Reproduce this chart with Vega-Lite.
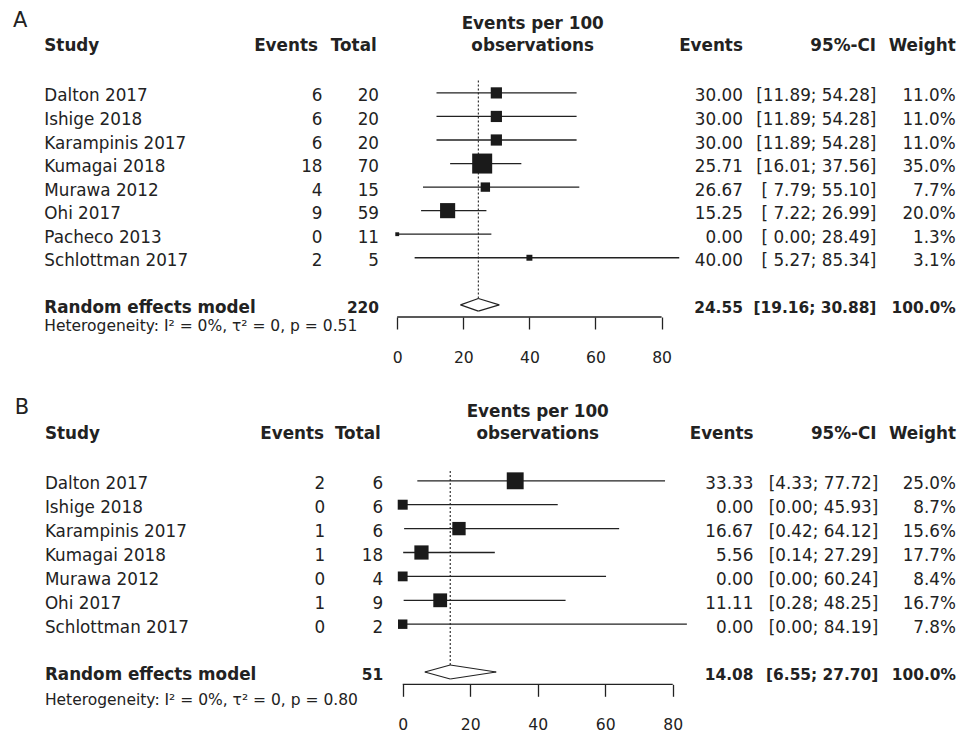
{
  "$schema": "https://vega.github.io/schema/vega-lite/v6.json",
  "background": "white",
  "padding": 0,
  "spacing": 63,
  "bounds": "flush",
  "config": {
    "view": {"stroke": null},
    "text": {"font": "DejaVu Sans", "fontSize": 16.8, "color": "#222222", "baseline": "middle", "dy": 3.5},
    "axis": {"labelFont": "DejaVu Sans", "labelFontSize": 15.6, "labelColor": "#222222", "tickColor": "#222222", "tickWidth": 1.3, "tickSize": 12, "labelPadding": 21.5, "domain": false, "grid": false}
  },
  "datasets": {
    "A": [
      {"row": 0, "study": "Dalton 2017", "events": 6, "total": 20, "est": 30.00, "lo": 11.89, "hi": 54.28, "ci": "[11.89; 54.28]", "weight": 0.110},
      {"row": 1, "study": "Ishige 2018", "events": 6, "total": 20, "est": 30.00, "lo": 11.89, "hi": 54.28, "ci": "[11.89; 54.28]", "weight": 0.110},
      {"row": 2, "study": "Karampinis 2017", "events": 6, "total": 20, "est": 30.00, "lo": 11.89, "hi": 54.28, "ci": "[11.89; 54.28]", "weight": 0.110},
      {"row": 3, "study": "Kumagai 2018", "events": 18, "total": 70, "est": 25.71, "lo": 16.01, "hi": 37.56, "ci": "[16.01; 37.56]", "weight": 0.350},
      {"row": 4, "study": "Murawa 2012", "events": 4, "total": 15, "est": 26.67, "lo": 7.79, "hi": 55.10, "ci": "[ 7.79; 55.10]", "weight": 0.077},
      {"row": 5, "study": "Ohi 2017", "events": 9, "total": 59, "est": 15.25, "lo": 7.22, "hi": 26.99, "ci": "[ 7.22; 26.99]", "weight": 0.200},
      {"row": 6, "study": "Pacheco 2013", "events": 0, "total": 11, "est": 0.00, "lo": 0.00, "hi": 28.49, "ci": "[ 0.00; 28.49]", "weight": 0.013},
      {"row": 7, "study": "Schlottman 2017", "events": 2, "total": 5, "est": 40.00, "lo": 5.27, "hi": 85.34, "ci": "[ 5.27; 85.34]", "weight": 0.031}
    ],
    "Are": [
      {"row": 9, "study": "Random effects model", "total": 220, "est": 24.55, "lo": 19.16, "hi": 30.88, "ci": "[19.16; 30.88]", "weight": 1.0, "het": "Heterogeneity: I² = 0%, τ² = 0, p = 0.51"}
    ],
    "B": [
      {"row": 0, "study": "Dalton 2017", "events": 2, "total": 6, "est": 33.33, "lo": 4.33, "hi": 77.72, "ci": "[4.33; 77.72]", "weight": 0.250},
      {"row": 1, "study": "Ishige 2018", "events": 0, "total": 6, "est": 0.00, "lo": 0.00, "hi": 45.93, "ci": "[0.00; 45.93]", "weight": 0.087},
      {"row": 2, "study": "Karampinis 2017", "events": 1, "total": 6, "est": 16.67, "lo": 0.42, "hi": 64.12, "ci": "[0.42; 64.12]", "weight": 0.156},
      {"row": 3, "study": "Kumagai 2018", "events": 1, "total": 18, "est": 5.56, "lo": 0.14, "hi": 27.29, "ci": "[0.14; 27.29]", "weight": 0.177},
      {"row": 4, "study": "Murawa 2012", "events": 0, "total": 4, "est": 0.00, "lo": 0.00, "hi": 60.24, "ci": "[0.00; 60.24]", "weight": 0.084},
      {"row": 5, "study": "Ohi 2017", "events": 1, "total": 9, "est": 11.11, "lo": 0.28, "hi": 48.25, "ci": "[0.28; 48.25]", "weight": 0.167},
      {"row": 6, "study": "Schlottman 2017", "events": 0, "total": 2, "est": 0.00, "lo": 0.00, "hi": 84.19, "ci": "[0.00; 84.19]", "weight": 0.078}
    ],
    "Bre": [
      {"row": 8, "study": "Random effects model", "total": 51, "est": 14.08, "lo": 6.55, "hi": 27.70, "ci": "[6.55; 27.70]", "weight": 1.0, "het": "Heterogeneity: I² = 0%, τ² = 0, p = 0.80"}
    ],
    "one": [{}]
  },
  "vconcat": [
    {
      "width": 960,
      "height": 317,
      "layer": [
        {
          "data": {"name": "A"},
          "mark": {"type": "rule", "color": "#222222", "strokeWidth": 1.3},
          "encoding": {
            "x": {"field": "lo", "type": "quantitative", "scale": {"domain": [-120.2, 170.3], "nice": false, "zero": false}, "axis": {"values": [0, 20, 40, 60, 80], "title": null, "format": "d", "labelFlush": false, "labelOverlap": false}},
            "x2": {"field": "hi"},
            "y": {"field": "row", "type": "quantitative", "scale": {"domain": [-3.945, 9.516], "reverse": true, "nice": false, "zero": false}, "axis": null}
          }
        },
        {
          "data": {"name": "Are"},
          "mark": {"type": "rule", "color": "#222222", "strokeWidth": 1.1, "strokeDash": [2, 2], "yOffset": -6.3},
          "encoding": {
            "x": {"field": "est", "type": "quantitative"},
            "y": {"field": "row", "type": "quantitative"},
            "y2": {"datum": -0.56}
          }
        },
        {
          "data": {"name": "A"},
          "mark": {"type": "point", "shape": "square", "filled": true, "color": "#1a1a1a", "opacity": 1, "strokeWidth": 0},
          "encoding": {
            "x": {"field": "est", "type": "quantitative"},
            "y": {"field": "row", "type": "quantitative"},
            "size": {"field": "weight", "type": "quantitative", "scale": {"domain": [0, 0.35], "range": [0, 400], "zero": true}, "legend": null}
          }
        },
        {"data": {"name": "Are"}, "mark": {"type": "rule", "color": "#222222", "strokeWidth": 1.2, "y2Offset": -6.3},
         "encoding": {"x": {"field": "lo", "type": "quantitative"}, "x2": {"field": "est"}, "y": {"field": "row", "type": "quantitative"}, "y2": {"field": "row"}}},
        {"data": {"name": "Are"}, "mark": {"type": "rule", "color": "#222222", "strokeWidth": 1.2, "y2Offset": 6.3},
         "encoding": {"x": {"field": "lo", "type": "quantitative"}, "x2": {"field": "est"}, "y": {"field": "row", "type": "quantitative"}, "y2": {"field": "row"}}},
        {"data": {"name": "Are"}, "mark": {"type": "rule", "color": "#222222", "strokeWidth": 1.2, "yOffset": -6.3},
         "encoding": {"x": {"field": "est", "type": "quantitative"}, "x2": {"field": "hi"}, "y": {"field": "row", "type": "quantitative"}, "y2": {"field": "row"}}},
        {"data": {"name": "Are"}, "mark": {"type": "rule", "color": "#222222", "strokeWidth": 1.2, "yOffset": 6.3},
         "encoding": {"x": {"field": "est", "type": "quantitative"}, "x2": {"field": "hi"}, "y": {"field": "row", "type": "quantitative"}, "y2": {"field": "row"}}},
        {
          "data": {"name": "one"},
          "mark": {"type": "rule", "color": "#222222", "strokeWidth": 1.3},
          "encoding": {
            "x": {"datum": 0, "type": "quantitative"},
            "x2": {"datum": 80},
            "y": {"datum": 9.516, "type": "quantitative"}
          }
        },
        {"data": {"name": "A"}, "mark": {"type": "text", "align": "left"},
         "encoding": {"x": {"datum": -106.8, "type": "quantitative"}, "y": {"field": "row", "type": "quantitative"}, "text": {"field": "study"}}},
        {"data": {"name": "A"}, "mark": {"type": "text", "align": "right"},
         "encoding": {"x": {"datum": -22.6, "type": "quantitative"}, "y": {"field": "row", "type": "quantitative"}, "text": {"field": "events", "type": "quantitative", "format": "d"}}},
        {"data": {"name": "A"}, "mark": {"type": "text", "align": "right"},
         "encoding": {"x": {"datum": -5.5, "type": "quantitative"}, "y": {"field": "row", "type": "quantitative"}, "text": {"field": "total", "type": "quantitative", "format": "d"}}},
        {"data": {"name": "A"}, "mark": {"type": "text", "align": "right"},
         "encoding": {"x": {"datum": 104.6, "type": "quantitative"}, "y": {"field": "row", "type": "quantitative"}, "text": {"field": "est", "type": "quantitative", "format": ".2f"}}},
        {"data": {"name": "A"}, "mark": {"type": "text", "align": "right"},
         "encoding": {"x": {"datum": 145.0, "type": "quantitative"}, "y": {"field": "row", "type": "quantitative"}, "text": {"field": "ci"}}},
        {"data": {"name": "A"}, "mark": {"type": "text", "align": "right"},
         "encoding": {"x": {"datum": 169.0, "type": "quantitative"}, "y": {"field": "row", "type": "quantitative"}, "text": {"field": "weight", "type": "quantitative", "format": ".1%"}}},
        {"data": {"name": "Are"}, "mark": {"type": "text", "align": "left", "fontWeight": "bold"},
         "encoding": {"x": {"datum": -106.8, "type": "quantitative"}, "y": {"field": "row", "type": "quantitative"}, "text": {"field": "study"}}},
        {"data": {"name": "Are"}, "mark": {"type": "text", "align": "right", "fontWeight": "bold", "fontSize": 15.4},
         "encoding": {"x": {"datum": -5.5, "type": "quantitative"}, "y": {"field": "row", "type": "quantitative"}, "text": {"field": "total", "type": "quantitative", "format": "d"}}},
        {"data": {"name": "Are"}, "mark": {"type": "text", "align": "right", "fontWeight": "bold", "fontSize": 15.4},
         "encoding": {"x": {"datum": 104.6, "type": "quantitative"}, "y": {"field": "row", "type": "quantitative"}, "text": {"field": "est", "type": "quantitative", "format": ".2f"}}},
        {"data": {"name": "Are"}, "mark": {"type": "text", "align": "right", "fontWeight": "bold", "fontSize": 15.4},
         "encoding": {"x": {"datum": 145.0, "type": "quantitative"}, "y": {"field": "row", "type": "quantitative"}, "text": {"field": "ci"}}},
        {"data": {"name": "Are"}, "mark": {"type": "text", "align": "right", "fontWeight": "bold", "fontSize": 15.4},
         "encoding": {"x": {"datum": 169.0, "type": "quantitative"}, "y": {"field": "row", "type": "quantitative"}, "text": {"field": "weight", "type": "quantitative", "format": ".1%"}}},
        {"data": {"name": "Are"}, "mark": {"type": "text", "align": "left", "fontSize": 15.5},
         "encoding": {"x": {"datum": -106.8, "type": "quantitative"}, "y": {"datum": 9.77, "type": "quantitative"}, "text": {"field": "het"}}},
        {"data": {"name": "one"}, "mark": {"type": "text", "align": "left", "fontSize": 21, "text": "A"},
         "encoding": {"x": {"datum": -116.3, "type": "quantitative"}, "y": {"datum": -3.2, "type": "quantitative"}}},
        {"data": {"name": "one"}, "mark": {"type": "text", "align": "left", "fontWeight": "bold", "text": "Study"},
         "encoding": {"x": {"datum": -106.8, "type": "quantitative"}, "y": {"datum": -2.12, "type": "quantitative"}}},
        {"data": {"name": "one"}, "mark": {"type": "text", "align": "right", "fontWeight": "bold", "text": "Events"},
         "encoding": {"x": {"datum": -24.0, "type": "quantitative"}, "y": {"datum": -2.12, "type": "quantitative"}}},
        {"data": {"name": "one"}, "mark": {"type": "text", "align": "right", "fontWeight": "bold", "text": "Total"},
         "encoding": {"x": {"datum": -6.2, "type": "quantitative"}, "y": {"datum": -2.12, "type": "quantitative"}}},
        {"data": {"name": "one"}, "mark": {"type": "text", "align": "center", "fontWeight": "bold", "text": "Events per 100"},
         "encoding": {"x": {"datum": 41, "type": "quantitative"}, "y": {"datum": -3.09, "type": "quantitative"}}},
        {"data": {"name": "one"}, "mark": {"type": "text", "align": "center", "fontWeight": "bold", "text": "observations"},
         "encoding": {"x": {"datum": 41, "type": "quantitative"}, "y": {"datum": -2.12, "type": "quantitative"}}},
        {"data": {"name": "one"}, "mark": {"type": "text", "align": "right", "fontWeight": "bold", "text": "Events"},
         "encoding": {"x": {"datum": 104.6, "type": "quantitative"}, "y": {"datum": -2.12, "type": "quantitative"}}},
        {"data": {"name": "one"}, "mark": {"type": "text", "align": "right", "fontWeight": "bold", "text": "95%-CI"},
         "encoding": {"x": {"datum": 144.9, "type": "quantitative"}, "y": {"datum": -2.12, "type": "quantitative"}}},
        {"data": {"name": "one"}, "mark": {"type": "text", "align": "right", "fontWeight": "bold", "text": "Weight"},
         "encoding": {"x": {"datum": 169.0, "type": "quantitative"}, "y": {"datum": -2.12, "type": "quantitative"}}}
      ]
    },
    {
      "width": 960,
      "height": 304.3,
      "layer": [
        {
          "data": {"name": "B"},
          "mark": {"type": "rule", "color": "#222222", "strokeWidth": 1.3},
          "encoding": {
            "x": {"field": "lo", "type": "quantitative", "scale": {"domain": [-119.3, 165.1], "nice": false, "zero": false}, "axis": {"values": [0, 20, 40, 60, 80], "title": null, "format": "d", "labelFlush": false, "labelOverlap": false}},
            "x2": {"field": "hi"},
            "y": {"field": "row", "type": "quantitative", "scale": {"domain": [-4.218, 8.515], "reverse": true, "nice": false, "zero": false}, "axis": null}
          }
        },
        {
          "data": {"name": "Bre"},
          "mark": {"type": "rule", "color": "#222222", "strokeWidth": 1.1, "strokeDash": [2, 2], "yOffset": -7},
          "encoding": {
            "x": {"field": "est", "type": "quantitative"},
            "y": {"field": "row", "type": "quantitative"},
            "y2": {"datum": -0.48}
          }
        },
        {
          "data": {"name": "B"},
          "mark": {"type": "point", "shape": "square", "filled": true, "color": "#1a1a1a", "opacity": 1, "strokeWidth": 0},
          "encoding": {
            "x": {"field": "est", "type": "quantitative"},
            "y": {"field": "row", "type": "quantitative"},
            "size": {"field": "weight", "type": "quantitative", "scale": {"domain": [0, 0.25], "range": [0, 400], "zero": true}, "legend": null}
          }
        },
        {"data": {"name": "Bre"}, "mark": {"type": "rule", "color": "#222222", "strokeWidth": 1.2, "y2Offset": -7},
         "encoding": {"x": {"field": "lo", "type": "quantitative"}, "x2": {"field": "est"}, "y": {"field": "row", "type": "quantitative"}, "y2": {"field": "row"}}},
        {"data": {"name": "Bre"}, "mark": {"type": "rule", "color": "#222222", "strokeWidth": 1.2, "y2Offset": 7},
         "encoding": {"x": {"field": "lo", "type": "quantitative"}, "x2": {"field": "est"}, "y": {"field": "row", "type": "quantitative"}, "y2": {"field": "row"}}},
        {"data": {"name": "Bre"}, "mark": {"type": "rule", "color": "#222222", "strokeWidth": 1.2, "yOffset": -7},
         "encoding": {"x": {"field": "est", "type": "quantitative"}, "x2": {"field": "hi"}, "y": {"field": "row", "type": "quantitative"}, "y2": {"field": "row"}}},
        {"data": {"name": "Bre"}, "mark": {"type": "rule", "color": "#222222", "strokeWidth": 1.2, "yOffset": 7},
         "encoding": {"x": {"field": "est", "type": "quantitative"}, "x2": {"field": "hi"}, "y": {"field": "row", "type": "quantitative"}, "y2": {"field": "row"}}},
        {
          "data": {"name": "one"},
          "mark": {"type": "rule", "color": "#222222", "strokeWidth": 1.3},
          "encoding": {
            "x": {"datum": 0, "type": "quantitative"},
            "x2": {"datum": 80},
            "y": {"datum": 8.515, "type": "quantitative"}
          }
        },
        {"data": {"name": "B"}, "mark": {"type": "text", "align": "left"},
         "encoding": {"x": {"datum": -106.0, "type": "quantitative"}, "y": {"field": "row", "type": "quantitative"}, "text": {"field": "study"}}},
        {"data": {"name": "B"}, "mark": {"type": "text", "align": "right"},
         "encoding": {"x": {"datum": -23.0, "type": "quantitative"}, "y": {"field": "row", "type": "quantitative"}, "text": {"field": "events", "type": "quantitative", "format": "d"}}},
        {"data": {"name": "B"}, "mark": {"type": "text", "align": "right"},
         "encoding": {"x": {"datum": -5.8, "type": "quantitative"}, "y": {"field": "row", "type": "quantitative"}, "text": {"field": "total", "type": "quantitative", "format": "d"}}},
        {"data": {"name": "B"}, "mark": {"type": "text", "align": "right"},
         "encoding": {"x": {"datum": 103.9, "type": "quantitative"}, "y": {"field": "row", "type": "quantitative"}, "text": {"field": "est", "type": "quantitative", "format": ".2f"}}},
        {"data": {"name": "B"}, "mark": {"type": "text", "align": "right"},
         "encoding": {"x": {"datum": 140.9, "type": "quantitative"}, "y": {"field": "row", "type": "quantitative"}, "text": {"field": "ci"}}},
        {"data": {"name": "B"}, "mark": {"type": "text", "align": "right"},
         "encoding": {"x": {"datum": 163.9, "type": "quantitative"}, "y": {"field": "row", "type": "quantitative"}, "text": {"field": "weight", "type": "quantitative", "format": ".1%"}}},
        {"data": {"name": "Bre"}, "mark": {"type": "text", "align": "left", "fontWeight": "bold"},
         "encoding": {"x": {"datum": -106.0, "type": "quantitative"}, "y": {"field": "row", "type": "quantitative"}, "text": {"field": "study"}}},
        {"data": {"name": "Bre"}, "mark": {"type": "text", "align": "right", "fontWeight": "bold", "fontSize": 15.4},
         "encoding": {"x": {"datum": -5.8, "type": "quantitative"}, "y": {"field": "row", "type": "quantitative"}, "text": {"field": "total", "type": "quantitative", "format": "d"}}},
        {"data": {"name": "Bre"}, "mark": {"type": "text", "align": "right", "fontWeight": "bold", "fontSize": 15.4},
         "encoding": {"x": {"datum": 103.9, "type": "quantitative"}, "y": {"field": "row", "type": "quantitative"}, "text": {"field": "est", "type": "quantitative", "format": ".2f"}}},
        {"data": {"name": "Bre"}, "mark": {"type": "text", "align": "right", "fontWeight": "bold", "fontSize": 15.4},
         "encoding": {"x": {"datum": 140.9, "type": "quantitative"}, "y": {"field": "row", "type": "quantitative"}, "text": {"field": "ci"}}},
        {"data": {"name": "Bre"}, "mark": {"type": "text", "align": "right", "fontWeight": "bold", "fontSize": 15.4},
         "encoding": {"x": {"datum": 163.9, "type": "quantitative"}, "y": {"field": "row", "type": "quantitative"}, "text": {"field": "weight", "type": "quantitative", "format": ".1%"}}},
        {"data": {"name": "Bre"}, "mark": {"type": "text", "align": "left", "fontSize": 15.5},
         "encoding": {"x": {"datum": -106.0, "type": "quantitative"}, "y": {"datum": 9.025, "type": "quantitative"}, "text": {"field": "het"}}},
        {"data": {"name": "one"}, "mark": {"type": "text", "align": "left", "fontSize": 21, "text": "B"},
         "encoding": {"x": {"datum": -114.9, "type": "quantitative"}, "y": {"datum": -3.2, "type": "quantitative"}}},
        {"data": {"name": "one"}, "mark": {"type": "text", "align": "left", "fontWeight": "bold", "text": "Study"},
         "encoding": {"x": {"datum": -106.0, "type": "quantitative"}, "y": {"datum": -2.09, "type": "quantitative"}}},
        {"data": {"name": "one"}, "mark": {"type": "text", "align": "right", "fontWeight": "bold", "text": "Events"},
         "encoding": {"x": {"datum": -23.3, "type": "quantitative"}, "y": {"datum": -2.09, "type": "quantitative"}}},
        {"data": {"name": "one"}, "mark": {"type": "text", "align": "right", "fontWeight": "bold", "text": "Total"},
         "encoding": {"x": {"datum": -6.5, "type": "quantitative"}, "y": {"datum": -2.09, "type": "quantitative"}}},
        {"data": {"name": "one"}, "mark": {"type": "text", "align": "center", "fontWeight": "bold", "text": "Events per 100"},
         "encoding": {"x": {"datum": 40, "type": "quantitative"}, "y": {"datum": -3.03, "type": "quantitative"}}},
        {"data": {"name": "one"}, "mark": {"type": "text", "align": "center", "fontWeight": "bold", "text": "observations"},
         "encoding": {"x": {"datum": 40, "type": "quantitative"}, "y": {"datum": -2.09, "type": "quantitative"}}},
        {"data": {"name": "one"}, "mark": {"type": "text", "align": "right", "fontWeight": "bold", "text": "Events"},
         "encoding": {"x": {"datum": 103.9, "type": "quantitative"}, "y": {"datum": -2.09, "type": "quantitative"}}},
        {"data": {"name": "one"}, "mark": {"type": "text", "align": "right", "fontWeight": "bold", "text": "95%-CI"},
         "encoding": {"x": {"datum": 140.4, "type": "quantitative"}, "y": {"datum": -2.09, "type": "quantitative"}}},
        {"data": {"name": "one"}, "mark": {"type": "text", "align": "right", "fontWeight": "bold", "text": "Weight"},
         "encoding": {"x": {"datum": 163.9, "type": "quantitative"}, "y": {"datum": -2.09, "type": "quantitative"}}}
      ]
    }
  ]
}
